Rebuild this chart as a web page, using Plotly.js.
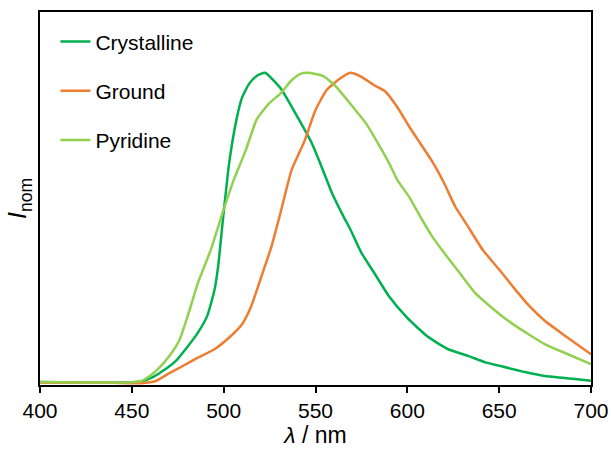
<!DOCTYPE html>
<html>
<head>
<meta charset="utf-8">
<script src="https://cdn.plot.ly/plotly-3.0.1.min.js"></script>
<style>html,body{margin:0;padding:0;background:#fff}#chart{width:611px;height:452px}</style>
</head>
<body>
<div id="chart"></div>
<script>
const crystallineX = [400, 420, 440, 450, 455, 460, 467, 474, 480, 486, 491, 495, 497, 500, 503, 507, 510, 514, 518, 522.5, 531, 539, 548, 554, 559, 565, 569, 575, 582, 590, 600, 611, 622, 633, 643, 650, 664, 675, 690, 700];
const crystallineY = [0.004, 0.002, 0.002, 0.003, 0.005, 0.015, 0.04, 0.072, 0.115, 0.163, 0.216, 0.30, 0.377, 0.55, 0.71, 0.85, 0.92, 0.966, 0.99, 1.0, 0.95, 0.87, 0.773, 0.687, 0.612, 0.54, 0.495, 0.42, 0.355, 0.28, 0.21, 0.15, 0.11, 0.088, 0.066, 0.056, 0.036, 0.023, 0.014, 0.008];

const groundX = [400, 420, 440, 455, 463, 469.5, 478, 486, 495, 503, 510, 515, 520, 526, 531, 537, 544, 550, 556, 563, 569, 575, 582, 588, 594.5, 601, 607, 614, 620, 626, 633, 641, 650, 658, 666.5, 675, 686, 700];
const groundY = [0.002, 0.001, 0.001, 0.0, 0.007, 0.029, 0.056, 0.082, 0.109, 0.147, 0.19, 0.248, 0.334, 0.44, 0.55, 0.687, 0.78, 0.88, 0.944, 0.98, 1.0, 0.987, 0.96, 0.94, 0.89, 0.827, 0.773, 0.71, 0.645, 0.57, 0.505, 0.43, 0.366, 0.307, 0.248, 0.2, 0.152, 0.093];

const pyridineX = [400, 420, 440, 450, 455, 460, 465, 470.5, 476, 481, 486, 493, 500, 505.5, 512, 518, 524.5, 531, 537, 541.5, 546, 554, 560.5, 569, 577.5, 584, 590, 594.5, 601, 607, 613.5, 620, 628.5, 637, 645, 654, 664.5, 675, 685.5, 700];
const pyridineY = [0.004, 0.002, 0.002, 0.003, 0.007, 0.024, 0.05, 0.088, 0.14, 0.227, 0.323, 0.43, 0.56, 0.655, 0.75, 0.85, 0.90, 0.934, 0.976, 0.996, 1.0, 0.99, 0.96, 0.90, 0.837, 0.773, 0.71, 0.655, 0.60, 0.537, 0.473, 0.42, 0.355, 0.29, 0.248, 0.205, 0.163, 0.125, 0.098, 0.061];

const seriesNames = ["Crystalline", "Ground", "Pyridine"];
const seriesColors = ["#00B050", "#ED7D31", "#92D050"];
const xTicks = [400, 450, 500, 550, 600, 650, 700];

const xs = [crystallineX, groundX, pyridineX];
const ys = [crystallineY, groundY, pyridineY];

const traces = seriesNames.map((n, i) => ({
  x: xs[i], y: ys[i], name: n, type: "scatter", mode: "lines",
  line: {color: seriesColors[i], width: 2.5, shape: "spline", smoothing: 0.5},
  legendgroup: n
}));

const layout = {
  width: 611, height: 452,
  margin: {l: 40, r: 20, t: 12, b: 67},
  paper_bgcolor: "#fff", plot_bgcolor: "#fff",
  font: {family: "Liberation Sans, Arial, sans-serif", color: "#000", size: 21},
  showlegend: true,
  legend: {x: 0.028, y: 0.975, xanchor: "left", yanchor: "top", bgcolor: "rgba(0,0,0,0)",
           font: {size: 21}, traceorder: "grouped", tracegroupgap: 19},
  xaxis: {range: [400, 700], tickvals: xTicks, ticktext: xTicks.map(String),
          ticks: "outside", ticklen: 6, tickwidth: 2, tickcolor: "#000",
          showline: true, linewidth: 2, linecolor: "#000", mirror: true,
          showgrid: false, zeroline: false, tickfont: {size: 21},
          title: {text: "<i>λ</i> / nm", font: {size: 23}, standoff: 5}},
  yaxis: {range: [-0.006, 1.196], showticklabels: false, ticks: "",
          showline: true, linewidth: 2, linecolor: "#000", mirror: true,
          showgrid: false, zeroline: false,
          title: {text: "<i>I</i><sub>nom</sub>", font: {size: 25}, standoff: 4}}
};

Plotly.newPlot("chart", traces, layout, {displayModeBar: false, staticPlot: true});
</script>
</body>
</html>
